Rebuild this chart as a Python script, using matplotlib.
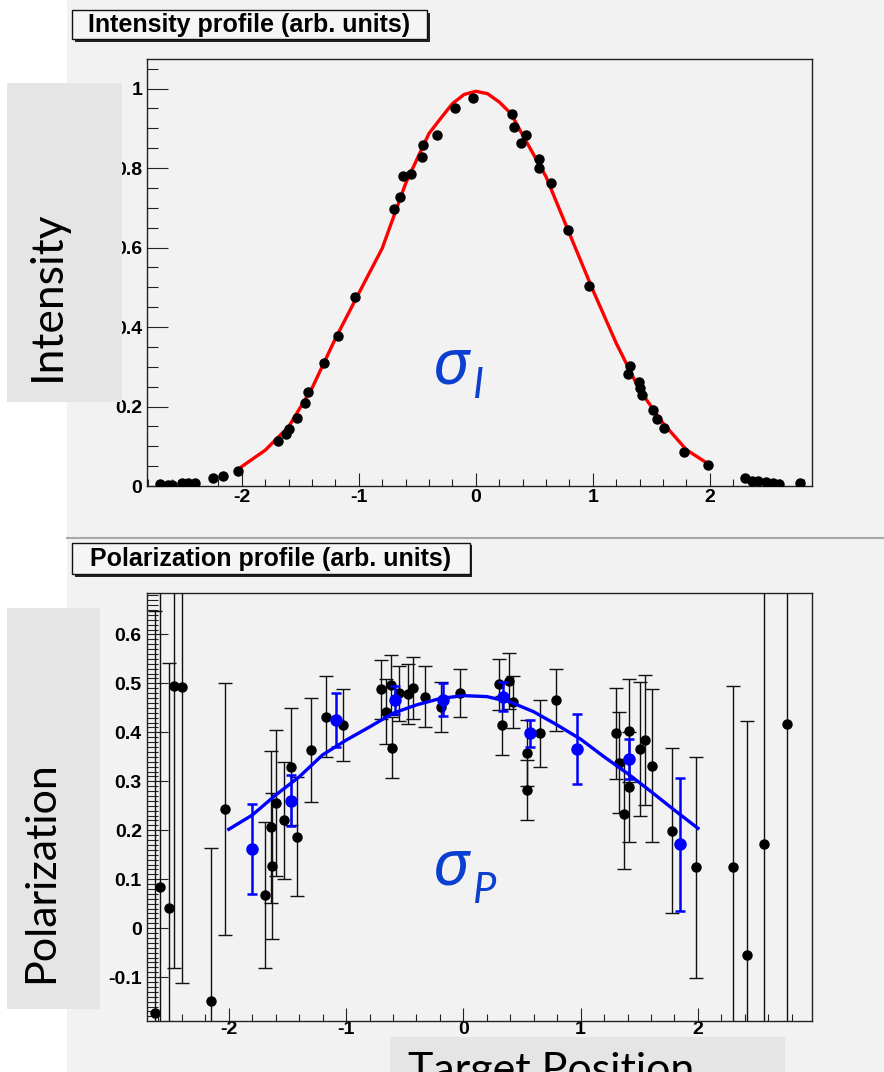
import numpy as np
import matplotlib
matplotlib.use("Agg")
import matplotlib.pyplot as plt
from matplotlib.patches import Rectangle
from matplotlib.lines import Line2D
from matplotlib.ticker import FixedLocator, MultipleLocator, FixedFormatter

# --- intensity profile (top panel) ---
int_x = [-2.70, -2.63, -2.60, -2.51, -2.46, -2.40, -2.25, -2.16, -2.03, -1.69, -1.62, -1.60,
         -1.53, -1.46, -1.43, -1.30, -1.18, -1.03, -0.70, -0.65, -0.62, -0.55, -0.46, -0.45,
         -0.33, -0.18, -0.02, 0.31, 0.33, 0.43, 0.39, 0.54, 0.54, 0.64, 0.79, 0.97, 1.32,
         1.30, 1.39, 1.40, 1.42, 1.51, 1.55, 1.61, 1.78, 1.98, 2.30, 2.36, 2.41, 2.48, 2.54,
         2.59, 2.77]
int_y = [0.005, 0.003, 0.003, 0.008, 0.008, 0.008, 0.019, 0.025, 0.038, 0.114, 0.132, 0.143,
         0.170, 0.209, 0.237, 0.310, 0.377, 0.476, 0.698, 0.727, 0.779, 0.786, 0.828, 0.857,
         0.883, 0.950, 0.976, 0.935, 0.903, 0.883, 0.863, 0.822, 0.800, 0.763, 0.644, 0.504,
         0.302, 0.283, 0.262, 0.246, 0.229, 0.191, 0.168, 0.147, 0.086, 0.053, 0.019, 0.013,
         0.013, 0.011, 0.008, 0.004, 0.007]

# red fit curve
int_fit_x = [-2.0, -1.8, -1.6, -1.4, -1.2, -1.0, -0.8, -0.6, -0.4, -0.3, -0.2, -0.1, 0.0,
             0.1, 0.2, 0.3, 0.4, 0.6, 0.8, 1.0, 1.2, 1.4, 1.6, 1.8, 2.0]
int_fit_y = [0.049, 0.090, 0.149, 0.246, 0.371, 0.485, 0.598, 0.761, 0.887, 0.925, 0.962,
             0.985, 0.993, 0.987, 0.966, 0.937, 0.883, 0.778, 0.635, 0.493, 0.359, 0.241,
             0.158, 0.091, 0.053]

# --- polarization profile (bottom panel) ---
pol_x = [-2.63, -2.59, -2.51, -2.47, -2.40, -2.15, -2.03, -1.69, -1.64, -1.63, -1.60, -1.53,
         -1.47, -1.42, -1.30, -1.17, -1.03, -0.70, -0.66, -0.62, -0.61, -0.55, -0.47, -0.43,
         -0.33, -0.19, -0.03, 0.30, 0.33, 0.39, 0.42, 0.54, 0.54, 0.65, 0.79, 1.30, 1.33,
         1.37, 1.41, 1.41, 1.51, 1.55, 1.61, 1.78, 1.98, 2.30, 2.42, 2.56, 2.76]
pol_y = [-0.173, 0.084, 0.041, 0.494, 0.493, -0.148, 0.243, 0.068, 0.206, 0.127, 0.256, 0.220,
         0.330, 0.187, 0.364, 0.432, 0.415, 0.488, 0.442, 0.497, 0.369, 0.480, 0.478, 0.490,
         0.473, 0.451, 0.481, 0.498, 0.414, 0.505, 0.462, 0.358, 0.282, 0.398, 0.466, 0.398,
         0.338, 0.233, 0.403, 0.288, 0.366, 0.384, 0.332, 0.199, 0.124, 0.124, -0.054, 0.171,
         0.418]
pol_err = [0.82, 1.2, 0.50, 0.576, 0.605, 0.312, 0.257, 0.149, 0.155, 0.150, 0.149, 0.120,
           0.119, 0.121, 0.106, 0.083, 0.074, 0.060, 0.066, 0.061, 0.063, 0.056, 0.061, 0.063,
           0.063, 0.051, 0.049, 0.052, 0.060, 0.057, 0.054, 0.068, 0.062, 0.068, 0.063, 0.093,
           0.103, 0.112, 0.105, 0.113, 0.137, 0.133, 0.156, 0.168, 0.225, 0.370, 0.478, 1.2,
           1.2]

avg_x = [-1.80, -1.47, -1.09, -0.58, -0.17, 0.34, 0.57, 0.97, 1.41, 1.85]
avg_y = [0.161, 0.260, 0.425, 0.466, 0.467, 0.473, 0.398, 0.366, 0.345, 0.171]
avg_err = [0.092, 0.052, 0.055, 0.028, 0.033, 0.030, 0.027, 0.071, 0.041, 0.135]

pol_fit_x = [-2.0, -1.8, -1.6, -1.4, -1.2, -1.0, -0.8, -0.6, -0.4, -0.2, 0.0, 0.2, 0.4, 0.6,
             0.8, 1.0, 1.2, 1.4, 1.6, 1.8, 2.0]
pol_fit_y = [0.202, 0.231, 0.272, 0.309, 0.354, 0.384, 0.411, 0.439, 0.456, 0.469, 0.475,
             0.473, 0.462, 0.442, 0.415, 0.386, 0.350, 0.316, 0.279, 0.241, 0.204]

W, H = 884, 1072
BG = "#f2f2f2"


def fbox(x0, y0, x1, y1):
    return [x0 / W, 1 - y1 / H, (x1 - x0) / W, (y1 - y0) / H]


def fpt(x, y):
    return (x / W, 1 - y / H)


plt.rcParams["font.family"] = ["Liberation Sans", "DejaVu Sans"]
plt.rcParams["font.weight"] = "bold"

fig = plt.figure(figsize=(W / 100, H / 100), dpi=100, facecolor="white")

# ROOT canvas backgrounds and separator
fig.add_artist(Rectangle(fpt(67, H), 1 - 67 / W, 1, transform=fig.transFigure,
                         facecolor=BG, edgecolor="none", zorder=-10))
fig.add_artist(Line2D([67 / W, 1], [1 - 538 / H] * 2, transform=fig.transFigure,
                      color="#a8a8a8", lw=1.5, zorder=-9))


def style_axes(ax, ymaj, ylabels, yminor, xpad):
    ax.set_facecolor(BG)
    for s in ax.spines.values():
        s.set_color("#222222")
        s.set_linewidth(1.0)
    ax.xaxis.set_major_locator(FixedLocator([-2, -1, 0, 1, 2]))
    ax.xaxis.set_major_formatter(FixedFormatter(["-2", "-1", "0", "1", "2"]))
    ax.xaxis.set_minor_locator(MultipleLocator(0.2))
    ax.yaxis.set_major_locator(FixedLocator(ymaj))
    ax.yaxis.set_major_formatter(FixedFormatter(ylabels))
    ax.yaxis.set_minor_locator(MultipleLocator(yminor))
    ax.tick_params(axis="x", which="major", direction="in", length=9.5, width=0.8,
                   pad=xpad, labelsize=14, color="#222222")
    ax.tick_params(axis="x", which="minor", direction="in", length=5, width=0.8,
                   color="#222222")
    ax.tick_params(axis="y", which="major", direction="in", length=15, width=0.8,
                   pad=3.5, labelsize=14, color="#222222")
    ax.tick_params(axis="y", which="minor", direction="in", length=8, width=0.8,
                   color="#222222")


# top panel
ax1 = fig.add_axes(fbox(147, 58.5, 811.7, 486))
ax1.set_xlim(-2.81, 2.87)
ax1.set_ylim(0, 1.0755)
style_axes(ax1, [0, 0.2, 0.4, 0.6, 0.8, 1.0], ["0", "0.2", "0.4", "0.6", "0.8", "1"], 0.05, 2)
ax1.plot(int_fit_x, int_fit_y, color="#ff0000", lw=2.4, zorder=3)
ax1.plot(int_x, int_y, "o", color="black", ms=6.5, zorder=4)

# bottom panel
ax2 = fig.add_axes(fbox(146.7, 593.3, 811.7, 1020.7))
ax2.set_xlim(-2.70, 2.97)
ax2.set_ylim(-0.189, 0.684)
style_axes(ax2, [-0.1, 0, 0.1, 0.2, 0.3, 0.4, 0.5, 0.6],
           ["-0.1", "0", "0.1", "0.2", "0.3", "0.4", "0.5", "0.6"], 0.01, 0.5)
ax2.errorbar(pol_x, pol_y, yerr=pol_err, fmt="o", color="black", ecolor="#111111",
             ms=6.5, elinewidth=1.0, capsize=5, capthick=1.0, zorder=3)
ax2.plot(pol_fit_x, pol_fit_y, color="#0000ff", lw=2.4, zorder=4)
ax2.errorbar(avg_x, avg_y, yerr=avg_err, fmt="o", color="#0000ff", ecolor="#0000ff",
             ms=8, elinewidth=1.8, capsize=3.5, capthick=1.8, zorder=5)

# title boxes with shadow
for (x0, y0, x1, y1, title, sh) in [(72, 10, 427, 38.5, "Intensity profile (arb. units)", 3),
                                    (72, 542.7, 470, 574.3, "Polarization profile (arb. units)", 2.5)]:
    fig.add_artist(Rectangle(fpt(x0 + sh, y1 + sh), (x1 - x0) / W, (y1 - y0) / H,
                             transform=fig.transFigure, facecolor="#222222", edgecolor="none"))
    fig.add_artist(Rectangle(fpt(x0, y1), (x1 - x0) / W, (y1 - y0) / H,
                             transform=fig.transFigure, facecolor="#f5f5f5",
                             edgecolor="#111111", lw=1.0))
    fig.text(*fpt((x0 + x1) / 2, (y0 + y1) / 2 + 1), title, ha="center", va="center",
             fontsize=18, fontweight="bold", color="black")

# slide labels on grey boxes
LBL = "#e5e5e5"
slide_font = ["Lato", "Open Sans", "DejaVu Sans"]
fig.add_artist(Rectangle(fpt(7, 402), 115 / W, 319 / H, transform=fig.transFigure,
                         facecolor=LBL, edgecolor="none", zorder=5))
fig.text(*fpt(60, 381), "Intensity", rotation=90, rotation_mode="anchor", ha="left",
         va="baseline", fontsize=32, fontweight="normal", family=slide_font, zorder=6)

fig.add_artist(Rectangle(fpt(7, 1009), 93 / W, 401 / H, transform=fig.transFigure,
                         facecolor=LBL, edgecolor="none", zorder=5))
fig.text(*fpt(53, 983), "Polarization", rotation=90, rotation_mode="anchor", ha="left",
         va="baseline", fontsize=31, fontweight="normal", family=slide_font, zorder=6)

fig.add_artist(Rectangle(fpt(390, 1080), 395 / W, 43 / H, transform=fig.transFigure,
                         facecolor=LBL, edgecolor="none", zorder=5))
fig.text(*fpt(408, 1083), "Target Position", ha="left", va="baseline",
         fontsize=31, fontweight="normal", family=slide_font, zorder=6)

# sigma annotations
sig_font = ["Noto Sans", "DejaVu Sans"]
sub_font = ["Lato", "Open Sans", "DejaVu Sans"]
BLUE = "#0b3fd0"
fig.text(*fpt(432, 383), "σ", color=BLUE, fontsize=46, style="italic",
         fontweight="normal", family=sig_font, ha="left", va="baseline")
fig.text(*fpt(473, 398), "I", color=BLUE, fontsize=30, style="italic",
         fontweight="normal", family=sub_font, ha="left", va="baseline")
fig.text(*fpt(432, 884.5), "σ", color=BLUE, fontsize=46, style="italic",
         fontweight="normal", family=sig_font, ha="left", va="baseline")
fig.text(*fpt(473, 903), "P", color=BLUE, fontsize=30, style="italic",
         fontweight="normal", family=sub_font, ha="left", va="baseline")

fig.savefig("out.png", dpi=100, facecolor="white")
